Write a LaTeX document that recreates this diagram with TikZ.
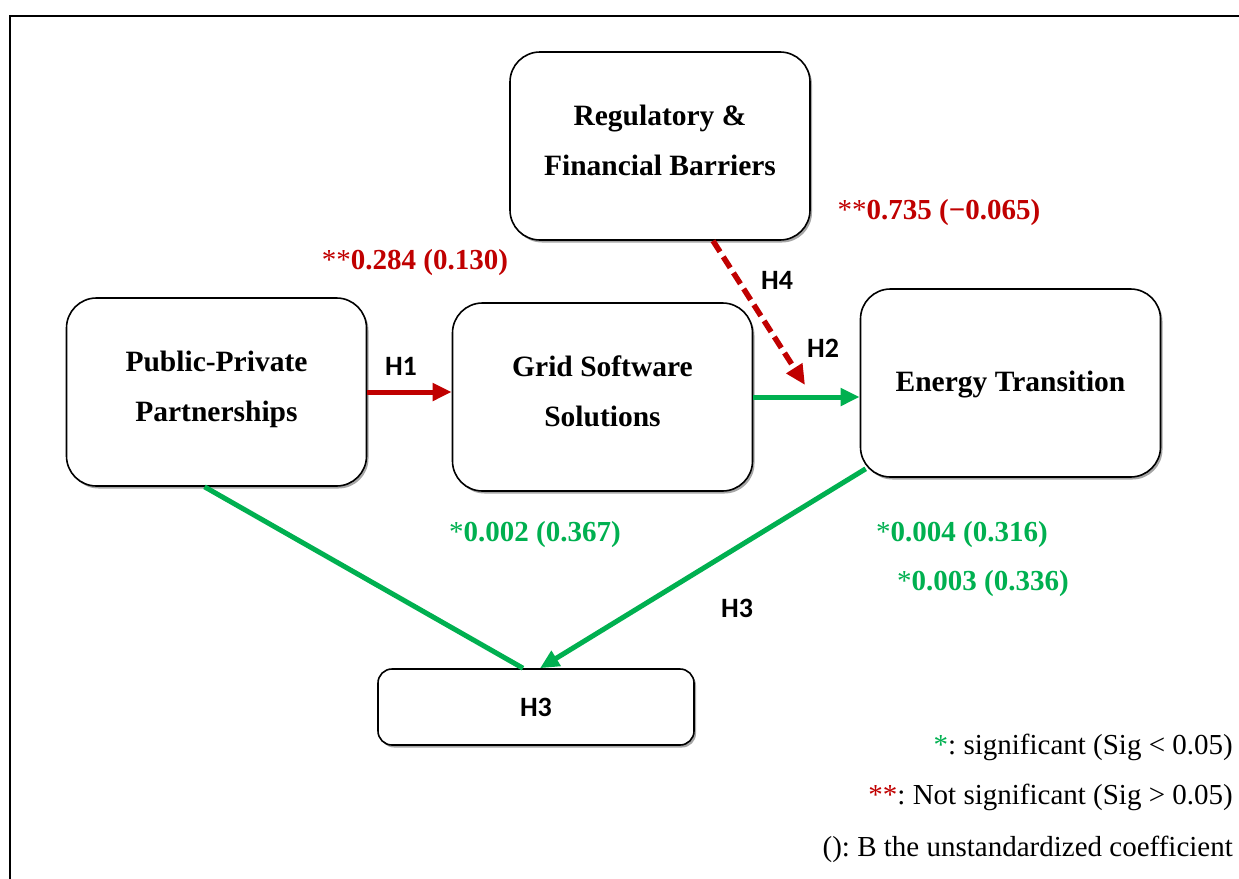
\documentclass[tikz,border=0pt]{standalone}
\usepackage{fontspec}
\setmainfont{Liberation Serif}
\newfontfamily\hfont{Carlito}
\usetikzlibrary{arrows.meta,shadows,calc}
\definecolor{cred}{HTML}{C00000}
\definecolor{cgreen}{HTML}{00B050}
\frenchspacing
\tikzset{
  box/.style={draw, line width=1.6pt, rounded corners=30pt, fill=white,
    minimum width=300pt, minimum height=188pt, align=center,
    font=\fontsize{29.5}{50}\selectfont\bfseries,
    drop shadow={shadow xshift=2pt, shadow yshift=-2.5pt, fill=black, opacity=.35}},
  twoline/.style={text depth=12pt},
  smallbox/.style={box, rounded corners=14pt, minimum width=316pt, minimum height=76pt},
  coef/.style={font=\fontsize{29}{34}\selectfont\bfseries, inner sep=0pt},
  hlab/.style={font=\hfont\fontsize{28}{32}\selectfont\bfseries, inner sep=0pt},
  leg/.style={font=\fontsize{29}{34}\selectfont, anchor=east, inner sep=0pt},
  redarrow/.style={draw=cred, line width=5pt, -{Triangle[length=19pt,width=17pt]}},
  greenarrow/.style={draw=cgreen, line width=5pt, -{Triangle[length=19pt,width=17pt]}},
  greenline/.style={draw=cgreen, line width=5pt},
  dashedarrow/.style={draw=cred, line width=5.5pt, dash pattern=on 13pt off 6pt, -{Triangle[length=20pt,width=18pt]}}
}
\begin{document}
\begin{tikzpicture}[x=1pt,y=-1pt]
\useasboundingbox (0,0) rectangle (1239,878);
\clip (0,0) rectangle (1239,878);
\draw[line width=2.5pt] (10,16) rectangle (1270,910);

% boxes
\node[box, twoline] (reg) at (660,146) {Regulatory \&\\Financial Barriers};
\node[box, twoline] (ppp) at (216.5,392) {Public-Private\\Partnerships};
\node[box, twoline] (grid) at (602.5,397) {Grid Software\\Solutions};
\node[box, text depth=3pt] (energy) at (1010.5,383) {Energy Transition};
\node[smallbox] (h3box) at (536,707) {\hfont\fontsize{28}{32}\selectfont\bfseries H3};

% connectors
\coordinate (h4end) at (805,385);
\draw[redarrow] (ppp.east) -- (grid.west |- ppp.east);
\draw[greenarrow] (grid.east) -- (energy.west |- grid.east);
\draw[greenline] ($(ppp.south)+(-12,0)$) -- ($(h3box.north)+(-13,0)$);
\draw[greenarrow] ($(energy.south west)+(6,-9)$) -- ($(h3box.north)+(4,0)$);
\draw[dashedarrow] ($(reg.south)+(53,0)$) -- (h4end);

% labels
\node[coef, text=cred] (c1) at (415,263) {{\mdseries**}0.284 (0.130)};
\node[coef, text=cred] (c4) at (939,213) {{\mdseries**}0.735 (−0.065)};
\node[coef, text=cgreen] (c2) at (535,535) {{\mdseries*}0.002 (0.367)};
\node[coef, text=cgreen] (c3a) at (962,535) {{\mdseries*}0.004 (0.316)};
\node[coef, text=cgreen] (c3b) at (983,584) {{\mdseries*}0.003 (0.336)};
\node[hlab] (lh1) at (401,366) {H1};
\node[hlab] (lh4) at (777,280) {H4};
\node[hlab] (lh2) at (823,348) {H2};
\node[hlab] (lh3) at (737,608) {H3};

% legend
\node[leg] (leg1) at (1233,747) {\textcolor{cgreen}{*}: significant (Sig < 0.05)};
\node[leg] (leg2) at (1233,797) {\textcolor{cred}{**}: Not significant (Sig > 0.05)};
\node[leg] (leg3) at (1233,849) {(): B the unstandardized coefficient};
\end{tikzpicture}
\end{document}
